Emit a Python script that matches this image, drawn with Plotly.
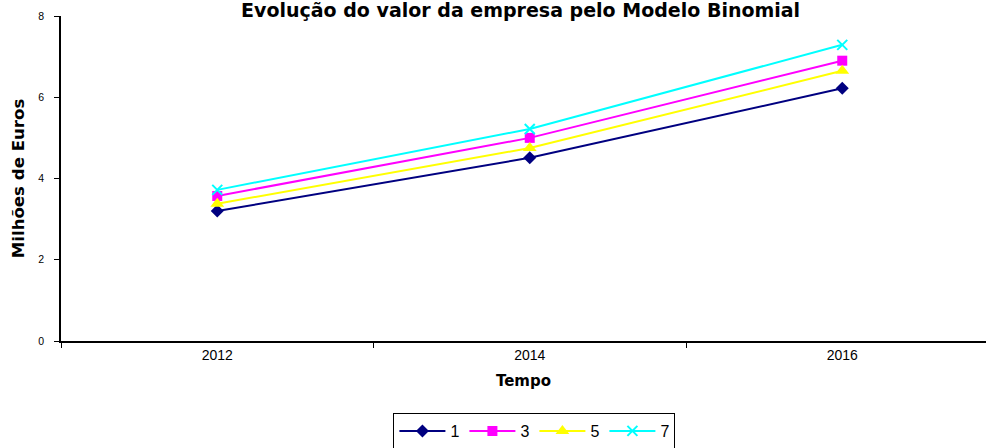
import plotly.graph_objects as go

years = ["2012", "2014", "2016"]
series_names = ["1", "3", "5", "7"]
s1 = [3.2, 4.51, 6.22]
s3 = [3.57, 5.0, 6.9]
s5 = [3.38, 4.75, 6.65]
s7 = [3.72, 5.22, 7.29]
y_ticks = [0, 2, 4, 6, 8]

colors = ["#000080", "#FF00FF", "#FFFF00", "#00FFFF"]
symbols = ["diamond", "square", "triangle-up", "x-thin-open"]
sizes = [10, 10, 12, 10]
data = [s1, s3, s5, s7]

fig = go.Figure()
for name, vals, c, sym, sz in zip(series_names, data, colors, symbols, sizes):
    marker = dict(symbol=sym, size=sz, color=c)
    if sym == "x-thin-open":
        marker["line"] = dict(color=c, width=2)
    fig.add_trace(go.Scatter(
        x=years, y=vals, name=name, mode="lines+markers",
        line=dict(color=c, width=2), marker=marker,
    ))

TITLE_FONT = "DejaVu Sans, Liberation Sans, Arial, sans-serif"

fig.update_layout(
    width=986, height=448,
    margin=dict(l=61, r=0, t=16, b=107, autoexpand=False),
    paper_bgcolor="white", plot_bgcolor="white",
    font=dict(family="Liberation Sans, Arial, sans-serif", color="black"),
    title=dict(text="<b>Evolução do valor da empresa pelo Modelo Binomial</b>",
               font=dict(size=19, family=TITLE_FONT), x=0.528, xanchor="center",
               xref="container", y=0.976, yanchor="middle", yref="container",
               pad=dict(t=0, b=0)),
    showlegend=True,
    legend=dict(orientation="h", x=0.542, xanchor="center", xref="container",
                y=0.0781, yanchor="top", yref="container",
                bordercolor="black", borderwidth=1, bgcolor="white",
                font=dict(size=16), itemwidth=46, traceorder="normal"),
    xaxis=dict(type="category", range=[-0.5, 2.46], showline=True, linecolor="black",
               linewidth=1.5, ticks="outside", tickson="boundaries", ticklen=5,
               tickcolor="black", showgrid=False, tickfont=dict(size=14),
               automargin=False,
               title=dict(text="<b>Tempo</b>", font=dict(size=15, family=TITLE_FONT),
                          standoff=14)),
    yaxis=dict(range=[0, 8], tickvals=y_ticks, showline=True, linecolor="black",
               linewidth=1.5, ticks="outside", ticklen=5, tickcolor="black",
               showgrid=False, zeroline=False, tickfont=dict(size=10.5),
               ticklabelstandoff=8, automargin=False,
               title=dict(text="<b>Milhões de Euros</b>", font=dict(size=16.6, family=TITLE_FONT),
                          standoff=9)),
)

fig.write_html("out.html", config={"displayModeBar": False},
               post_script="document.body.style.margin='0';")
